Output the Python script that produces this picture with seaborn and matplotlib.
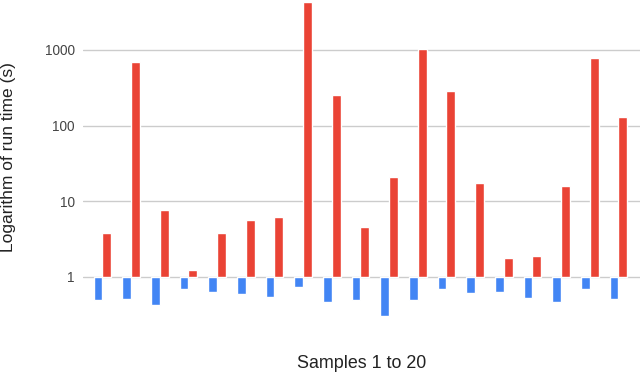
import numpy as np
import pandas as pd
import matplotlib
matplotlib.use("Agg")
import matplotlib.pyplot as plt
import seaborn as sns

samples = [f"S{i}" for i in range(1, 20)]
blue_values = [0.49, 0.51, 0.43, 0.69, 0.63, 0.60, 0.54, 0.74, 0.47, 0.50,
               0.305, 0.50, 0.69, 0.61, 0.63, 0.52, 0.47, 0.69, 0.51]
red_values = [3.85, 698, 7.7, 1.23, 3.85, 5.66, 6.26, 4300, 254, 4.58,
              21.1, 1028, 289, 17.3, 1.8, 1.87, 16.1, 782, 129]
series_names = ["A", "B"]
tick_values = [1, 10, 100, 1000]
tick_labels = ["1", "10", "100", "1000"]

df = pd.DataFrame({
    "sample": samples * 2,
    "series": [series_names[0]] * len(samples) + [series_names[1]] * len(samples),
    "value": blue_values + red_values,
})
df["logv"] = np.log10(df["value"])

sns.set_theme(style="white")
plt.rcParams["font.family"] = ["Liberation Sans", "DejaVu Sans"]

fig = plt.figure(figsize=(6.4, 3.74), dpi=100)
ax = fig.add_axes([83 / 640, 1 - 330 / 374, (640 - 83) / 640, 330 / 374])

for t in tick_values:
    ax.axhline(np.log10(t), color="#cccccc", linewidth=1.0, zorder=0)

sns.barplot(data=df, x="sample", y="logv", hue="series",
            palette=["#4285F4", "#EA4335"], width=0.62, gap=0,
            saturation=1, legend=False, ax=ax, zorder=2)

ax.set_ylim(-(330 - 277) / 75.7, 277 / 75.7)
ax.set_xlim(-0.68, 18.75)
ax.set_yticks([np.log10(t) for t in tick_values])
ax.set_yticklabels(tick_labels, fontsize=9.8, color="#444444")
ax.set_xticks([])
ax.tick_params(axis="y", length=0, pad=6)
ax.set_xlabel("")
ax.set_ylabel("")
for s in ax.spines.values():
    s.set_visible(False)

fig.text(9 / 640, 1 - 157 / 374, "Logarithm of run time (s)", rotation=90,
         ha="center", va="center", fontsize=12.5, color="#222222")
fig.text(362 / 640, 1 - 363 / 374, "Samples 1 to 20",
         ha="center", va="center", fontsize=12.9, color="#222222")

fig.savefig("out.png", dpi=100)
